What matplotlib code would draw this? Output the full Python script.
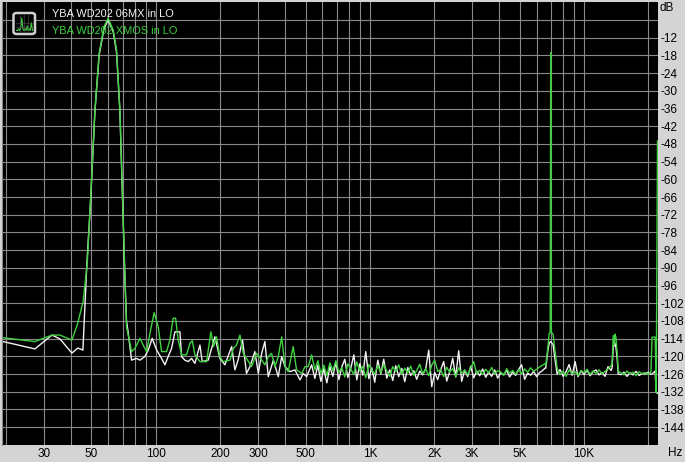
import matplotlib
matplotlib.use('Agg')
import matplotlib.pyplot as plt
from matplotlib.patches import FancyBboxPatch
from matplotlib.ticker import NullFormatter

# ============================================================================
# DATA
# ============================================================================

legend_labels = ['YBA WD202 06MX in LO', 'YBA WD202 XMOS in LO']

x_major = [30, 50, 100, 200, 300, 500, 1000, 2000, 3000, 5000, 10000]
x_major_labels = ['30', '50', '100', '200', '300', '500', '1K', '2K', '3K', '5K', '10K']
x_minor = [20, 40, 60, 70, 80, 90, 400, 600, 700, 800, 900,
           4000, 6000, 7000, 8000, 9000, 20000]
y_grid = [-144, -138, -132, -126, -120, -114, -108, -102, -96, -90, -84, -78,
          -72, -66, -60, -54, -48, -42, -36, -30, -24, -18, -12, -6]

# frequency grid of the noise floor between 553 Hz and 6.6 kHz
noise_hz = [553, 571, 590, 609, 629, 650, 671, 693, 716, 739, 763, 788, 814, 841,
            868, 897, 926, 956, 988, 1020, 1053, 1088, 1124, 1160, 1198, 1238,
            1278, 1320, 1363, 1408, 1454, 1502, 1551, 1602, 1654, 1708, 1764,
            1822, 1882, 1944, 2007, 2073, 2141, 2211, 2284, 2358, 2436, 2516,
            2598, 2683, 2771, 2862, 2956, 3053, 3153, 3256, 3363, 3473, 3587,
            3704, 3826, 3951, 4081, 4214, 4353, 4495, 4643, 4795, 4952, 5114,
            5282, 5455, 5634, 5818, 6009, 6206, 6409, 6580]
# floor between the 7 kHz and 14 kHz components
mid_hz = [7490, 7730, 7990, 8250, 8520, 8800, 9090, 9380, 9690, 10010, 10340,
          10670, 11020, 11380, 11760, 12140, 12540, 12950, 13380]
# floor above 14 kHz
top_hz = [14890, 15370, 15880, 16410, 16950, 17510, 18090, 18690, 19300, 19940, 20540]

# --- YBA WD202 06MX (white) ---
mx_low_hz = [18.8, 27.2, 32.7, 35.6, 40.5, 43.2, 45.6, 47.6, 49.5, 51.9, 54.3,
             57.2, 59.8, 63.2, 65.5, 67.9, 69.9, 71.6, 72.9, 74.3, 77.0, 81.0,
             84.2, 88.8, 92.1, 96.1, 100.8, 106.3, 110.2, 114.1, 118.4, 122.7,
             129.5, 131.8, 136.6, 141.6, 146.8, 152.1, 160.6, 164.6, 175.6,
             188.7, 199.0, 210.0, 226.0, 234.0, 242.0, 254.0, 265.0, 275.0,
             290.0, 301.0, 312.0, 323.0, 335.0, 354.0, 373.0, 387.0, 401.0,
             423.0, 446.0, 471.0, 488.0, 506.0, 534.0]
mx_low_db = [-114.8, -117.5, -112.8, -114.1, -118.9, -117.2, -117.9, -88.4, -68.0,
             -37.0, -18.0, -9.0, -6.0, -10.0, -17.0, -37.0, -67.0, -93.0, -108.0,
             -112.2, -121.3, -120.7, -121.3, -120.1, -117.9, -113.9, -117.9,
             -120.7, -122.9, -120.1, -117.3, -111.7, -111.7, -120.1, -121.3,
             -121.8, -120.7, -122.4, -116.2, -121.8, -121.3, -113.4, -120.7,
             -122.9, -116.7, -124.6, -121.3, -114.5, -125.8, -123.5, -118.4,
             -125.8, -119.0, -115.0, -126.9, -121.3, -126.9, -120.1, -123.5,
             -125.2, -124.6, -128.0, -125.8, -126.9, -122.9]
mx_noise_db = [-127.5, -123.0, -128.5, -124.2, -129.0, -123.5, -126.8, -122.0,
               -127.9, -123.6, -121.0, -127.2, -124.0, -119.5, -128.0, -122.5,
               -126.4, -118.4, -127.6, -123.9, -128.8, -121.3, -126.0, -121.0,
               -127.4, -124.6, -128.2, -123.2, -126.9, -124.1, -128.6, -123.8,
               -126.5, -124.9, -127.8, -125.0, -126.3, -124.2, -117.9, -130.3,
               -125.5, -127.9, -124.5, -121.8, -128.4, -125.2, -120.7, -127.0,
               -118.1, -128.5, -124.7, -126.9, -123.4, -127.3, -125.0, -126.6,
               -124.3, -127.1, -125.4, -126.8, -124.6, -127.4, -125.6, -126.2,
               -124.8, -127.0, -125.3, -126.5, -124.4, -122.9, -127.8, -125.7,
               -126.4, -125.1, -126.9, -125.5, -124.8, -124.0]
mx_h2_hz = [6630, 6780, 6880, 6990, 7070, 7170, 7290]
mx_h2_db = [-124.0, -118.0, -115.5, -115.0, -115.5, -116.0, -120.0]
mx_mid_db = [-126.0, -124.5, -126.8, -125.2, -122.8, -126.4, -121.8, -126.9,
             -125.0, -126.2, -124.7, -126.6, -125.3, -124.6, -126.3, -125.5,
             -126.8, -123.5, -124.8]
mx_h3_hz = [13520, 13700, 13960, 14100, 14300, 14450]
mx_h3_db = [-124.0, -117.0, -115.5, -117.0, -121.0, -126.0]
mx_top_db = [-126.2, -125.4, -126.8, -125.6, -126.3, -125.1, -126.5, -125.8,
             -126.0, -125.4, -126.1]
mx_end_hz = [20800, 21500, 21750, 22050]
mx_end_db = [-126.0, -125.0, -132.3, -132.5]

# --- YBA WD202 XMOS (green) ---
xm_low_hz = [18.8, 27.2, 32.7, 35.6, 40.5, 42.9, 45.7, 47.8, 49.5, 51.9, 54.3,
             57.2, 59.8, 63.2, 65.5, 67.9, 69.9, 71.6, 72.9, 77.0, 79.8, 84.2,
             87.2, 90.5, 93.8, 98.2, 102.5, 106.3, 112.2, 116.2, 120.4, 123.6,
             127.1, 131.8, 139.1, 144.2, 148.0, 152.1, 160.6, 172.6, 180.7,
             186.0, 192.0, 199.0, 206.0, 222.0, 230.0, 238.0, 247.0, 256.0,
             265.0, 280.0, 295.0, 312.0, 323.0, 335.0, 347.0, 360.0, 373.0,
             387.0, 401.0, 415.0, 438.0, 454.0, 480.0, 497.0, 515.0, 534.0]
xm_low_db = [-113.6, -115.0, -112.8, -112.8, -114.5, -109.4, -101.5, -88.4, -67.0,
             -36.5, -17.3, -8.3, -5.4, -9.4, -16.2, -36.5, -67.0, -93.0, -110.0,
             -118.4, -117.3, -113.9, -116.2, -118.4, -112.2, -105.2, -110.0,
             -118.4, -118.4, -114.5, -107.1, -107.1, -114.5, -119.5, -119.5,
             -115.6, -114.7, -119.5, -121.8, -121.8, -111.7, -116.7, -113.4,
             -120.1, -121.8, -121.3, -117.3, -116.2, -112.8, -119.0, -120.7,
             -123.5, -119.0, -121.3, -122.9, -120.1, -119.0, -123.5, -120.1,
             -113.4, -123.5, -125.2, -116.7, -124.6, -125.8, -123.5, -123.5,
             -119.5]
xm_noise_db = [-124.6, -121.5, -125.8, -123.0, -126.5, -122.2, -124.9, -121.5,
               -125.5, -123.8, -127.0, -122.6, -124.3, -126.2, -121.9, -125.0,
               -123.4, -127.3, -122.8, -124.7, -126.0, -123.1, -125.6, -122.8,
               -124.9, -126.8, -123.5, -125.2, -122.9, -126.1, -124.0, -125.7,
               -123.3, -126.4, -124.8, -122.7, -125.9, -124.2, -126.6, -123.0,
               -121.3, -125.1, -124.5, -126.9, -123.7, -125.4, -124.1, -127.0,
               -123.9, -125.8, -124.6, -126.3, -124.0, -121.8, -125.9, -124.7,
               -126.2, -124.4, -125.6, -123.8, -126.0, -124.9, -125.3, -126.5,
               -124.2, -125.7, -124.8, -126.1, -124.5, -125.9, -124.3, -125.4,
               -123.9, -125.0, -124.4, -123.6, -123.0, -122.5]
xm_h2_hz = [6630, 6780, 6880, 6950, 6990, 7030, 7070, 7170, 7290]
xm_h2_db = [-123.0, -117.0, -112.2, -112.0, -17.0, -112.0, -112.0, -112.5, -117.0]
xm_mid_db = [-124.0, -126.2, -125.0, -126.8, -124.6, -125.9, -125.2, -126.5,
             -124.8, -125.6, -124.4, -126.1, -125.0, -125.8, -124.6, -126.0,
             -125.1, -124.3, -123.2]
xm_h3_hz = [13520, 13700, 13850, 13960, 14100, 14300, 14450]
xm_h3_db = [-122.5, -113.0, -116.0, -112.5, -113.5, -119.0, -125.0]
xm_top_db = [-125.6, -126.3, -125.0, -126.0, -125.4, -126.6, -125.2, -125.9,
             -125.5, -126.2, -125.3]
xm_end_hz = [20800, 21500, 21750, 22050]
xm_end_db = [-113.5, -113.5, -132.3, -47.0]

mx_hz = mx_low_hz + noise_hz + mx_h2_hz + mid_hz + mx_h3_hz + top_hz + mx_end_hz
mx_db = mx_low_db + mx_noise_db + mx_h2_db + mx_mid_db + mx_h3_db + mx_top_db + mx_end_db
xm_hz = xm_low_hz + noise_hz + xm_h2_hz + mid_hz + xm_h3_hz + top_hz + xm_end_hz
xm_db = xm_low_db + xm_noise_db + xm_h2_db + xm_mid_db + xm_h3_db + xm_top_db + xm_end_db

# ============================================================================
# PLOT
# ============================================================================

W, H = 685, 462
BG = '#d4d4d4'
GRID = '#8a8a8a'
WHITE = '#f2f2f2'
GREEN = '#3fd13f'
FONT = 'Liberation Sans'

fig = plt.figure(figsize=(W / 100, H / 100), dpi=100, facecolor=BG)
ax = fig.add_axes([2 / W, (H - 444.8) / H, 656 / W, (444.8 - 2.3) / H])
ax.set_facecolor('black')
ax.set_xscale('log')
ax.set_xlim(19.1, 22170)
ax.set_ylim(-150, 0)

ax.set_xticks(x_major, x_major_labels)
ax.set_xticks(x_minor, minor=True)
ax.xaxis.set_minor_formatter(NullFormatter())
ax.set_yticks(y_grid, [str(v) if v != -6 else '' for v in y_grid])
ax.yaxis.tick_right()
ax.grid(which='both', color=GRID, lw=0.8)
ax.tick_params(which='both', length=0)
ax.tick_params(axis='x', pad=2, labelsize=8.5)
ax.tick_params(axis='y', pad=1.5, labelsize=8.5)
for lab in ax.get_xticklabels() + ax.get_yticklabels():
    lab.set_family(FONT)
for side in ['top', 'right', 'bottom']:
    ax.spines[side].set_visible(False)
ax.spines['left'].set_color(GRID)

ax.plot(mx_hz, mx_db, color=WHITE, lw=1.0)
ax.plot(xm_hz, xm_db, color=GREEN, lw=1.0)

# axis captions
fig.text(660 / W, 1 - 8 / H, 'dB', ha='left', va='center', fontsize=8.5, family=FONT)
fig.text(668 / W, 1 - 453 / H, 'Hz', ha='left', va='center', fontsize=8.5, family=FONT)

# legend text
fig.text(52 / W, 1 - 14 / H, legend_labels[0], color=WHITE, ha='left', va='center',
         fontsize=7.9, family=FONT)
fig.text(52 / W, 1 - 31 / H, legend_labels[1], color=GREEN, ha='left', va='center',
         fontsize=7.9, family=FONT)

# little spectrum icon next to the legend
icon = FancyBboxPatch((13.5 / W, 1 - 34 / H), 21.5 / W, 21 / H,
                      boxstyle='round,pad=0,rounding_size=0.005',
                      transform=fig.transFigure, facecolor='black',
                      edgecolor='#d0d0d0', lw=1.8, zorder=5)
fig.patches.append(icon)
iax = fig.add_axes([16 / W, 1 - 32 / H, 17 / W, 17 / H], zorder=6)
iax.set_facecolor('black')
icon_y = [1, 1, 2, 1, 3, 9, 2, 1, 2, 1, 4, 1, 2, 1, 6, 1]
iax.plot(range(len(icon_y)), icon_y, color=GREEN, lw=0.8)
for gx in [3, 7, 11]:
    iax.axvline(gx, color='#555555', lw=0.4)
for gy in [3, 6]:
    iax.axhline(gy, color='#555555', lw=0.4)
iax.set_xlim(-0.5, len(icon_y) - 0.5)
iax.set_ylim(0, 11)
iax.axis('off')

fig.savefig('out.png', dpi=100, facecolor=BG)
